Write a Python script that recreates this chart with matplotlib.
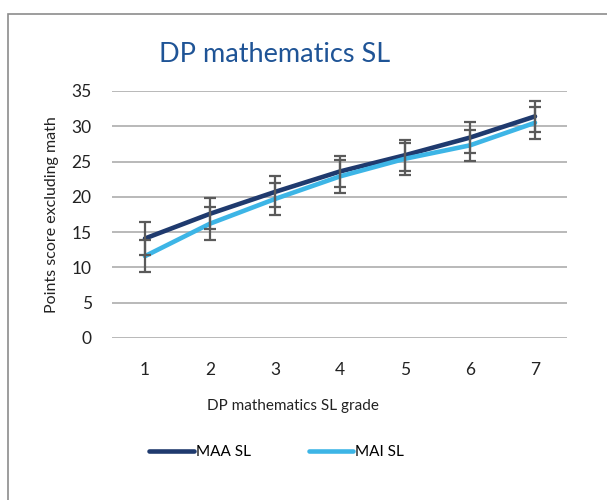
import matplotlib.pyplot as plt
import matplotlib.patches as patches
import numpy as np

plt.rcParams['font.family'] = ['Lato', 'DejaVu Sans']

# Mean points score (excluding math) by DP mathematics SL grade
grades = [1, 2, 3, 4, 5, 6, 7]
maa_sl = [14.1, 17.6, 20.7, 23.6, 25.9, 28.4, 31.4]
mai_sl = [11.6, 16.2, 19.7, 22.9, 25.4, 27.3, 30.5]
maa_err = [2.4, 2.2, 2.2, 2.2, 2.2, 2.2, 2.2]
mai_err = [2.3, 2.3, 2.3, 2.3, 2.3, 2.2, 2.25]
yticks = [0, 5, 10, 15, 20, 25, 30, 35]

navy = '#1F3A6E'
sky = '#3DB5E6'
bar_gray = '#5A5A5A'

fig = plt.figure(figsize=(6.07, 5.0), dpi=100)
ax = fig.add_axes([0.1853, 0.324, 0.7496, 0.494])

# outer chart frame (runs off the right and bottom edges)
fig.patches.append(patches.Rectangle((0.0132, -0.1), 1.2, 1.072, transform=fig.transFigure,
                                     fill=False, edgecolor='#8C8C8C', linewidth=1.2))

ax.plot(grades, maa_sl, color=navy, linewidth=3.3, solid_capstyle='round', label='MAA SL', zorder=3)
ax.plot(grades, mai_sl, color=sky, linewidth=3.3, solid_capstyle='round', label='MAI SL', zorder=3)

ax.errorbar(grades, maa_sl, yerr=maa_err, fmt='none', ecolor=bar_gray, elinewidth=1.6,
            capsize=4.3, capthick=1.6, zorder=4)
ax.errorbar(grades, mai_sl, yerr=mai_err, fmt='none', ecolor=bar_gray, elinewidth=1.6,
            capsize=4.3, capthick=1.6, zorder=4)

ax.set_xlim(0.5, 7.5)
ax.set_ylim(0, 35)
ax.set_xticks(grades)
ax.set_yticks(yticks)
ax.tick_params(length=0, labelsize=12.5, colors='#222222')
ax.tick_params(axis='x', pad=17)
ax.tick_params(axis='y', pad=15)
ax.grid(axis='y', color='#A6A6A6', linewidth=1.1)
ax.set_axisbelow(True)
for s in ax.spines.values():
    s.set_visible(False)

ax.set_ylabel('Points score excluding math', fontsize=11.5, color='#222222', labelpad=9)

fig.text(0.453, 0.89, 'DP mathematics SL', ha='center', va='center', fontsize=19.5, color='#1F5496')
fig.text(0.483, 0.188, 'DP mathematics SL grade', ha='center', va='center', fontsize=11, color='#222222')

fig.legend(loc='center', bbox_to_anchor=(0.456, 0.096), ncol=2, frameon=False, fontsize=11,
           handlelength=2.9, handletextpad=0.15, columnspacing=3.8)

plt.savefig('out.png', dpi=100)
